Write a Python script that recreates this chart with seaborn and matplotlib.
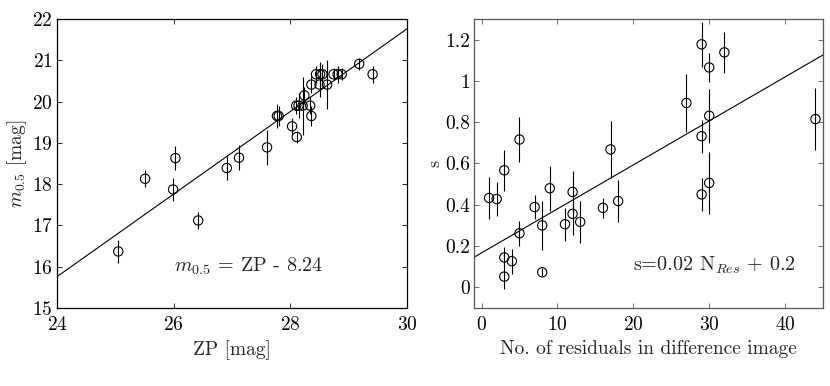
import numpy as np
import pandas as pd
import matplotlib
matplotlib.use("Agg")
import matplotlib.pyplot as plt
import seaborn as sns

# left panel: zero point vs 50% completeness magnitude
zp = [25.05, 25.51, 25.99, 26.03, 26.42, 26.91, 27.12, 27.60, 27.77, 27.80,
      28.03, 28.11, 28.10, 28.14, 28.21, 28.24, 28.34, 28.36, 28.36, 28.44,
      28.51, 28.55, 28.50, 28.63, 28.74, 28.81, 28.88, 29.18, 29.41]
m05 = [16.37, 18.13, 17.87, 18.63, 17.12, 18.39, 18.64, 18.89, 19.65, 19.65,
       19.40, 19.14, 19.90, 19.90, 19.90, 20.15, 19.90, 19.65, 20.41, 20.66,
       20.66, 20.66, 20.41, 20.41, 20.66, 20.66, 20.66, 20.91, 20.66]
m05_err = [0.28, 0.2, 0.28, 0.3, 0.2, 0.3, 0.3, 0.42, 0.3, 0.25,
           0.2, 0.15, 0.2, 0.3, 0.7, 0.2, 0.2, 0.25, 0.2, 0.2,
           0.3, 0.25, 0.3, 0.6, 0.15, 0.2, 0.15, 0.15, 0.2]
zp_offset = -8.24

# right panel: number of residuals vs s
n_res = [1, 2, 3, 3, 3, 4, 5, 5, 7, 8, 8, 9, 11, 12, 12, 13, 16, 17, 18,
         27, 29, 29, 29, 30, 30, 30, 32, 44]
s_val = [0.433, 0.428, 0.567, 0.145, 0.052, 0.127, 0.716, 0.262, 0.389, 0.30,
         0.073, 0.48, 0.306, 0.462, 0.356, 0.317, 0.385, 0.668, 0.418,
         0.893, 1.177, 0.732, 0.45, 1.065, 0.831, 0.506, 1.138, 0.815]
s_err = [0.1, 0.08, 0.1, 0.05, 0.06, 0.06, 0.11, 0.06, 0.06, 0.12,
         0.02, 0.11, 0.08, 0.1, 0.1, 0.1, 0.05, 0.14, 0.1,
         0.14, 0.11, 0.08, 0.08, 0.07, 0.13, 0.15, 0.1, 0.15]
s_slope, s_icpt = 0.0213, 0.167

sns.set_style("ticks")
plt.rcParams["font.family"] = ["serif"]
plt.rcParams["font.serif"] = ["cmr10", "DejaVu Serif"]
plt.rcParams["mathtext.fontset"] = "cm"
plt.rcParams["axes.formatter.use_mathtext"] = True
plt.rcParams["xtick.direction"] = "in"
plt.rcParams["ytick.direction"] = "in"

left_df = pd.DataFrame({"zp": zp, "m": m05, "err": m05_err})
right_df = pd.DataFrame({"n": n_res, "s": s_val, "err": s_err})

fig = plt.figure(figsize=(8.3, 3.86), dpi=100)
ax1 = fig.add_axes([0.0687, 0.202, 0.4217, 0.749])
ax2 = fig.add_axes([0.571, 0.202, 0.4206, 0.749])


def style_axis(ax, spine_col):
    for sp in ax.spines.values():
        sp.set_visible(True)
        sp.set_linewidth(0.9)
        sp.set_color(spine_col)
    ax.tick_params(which="both", top=True, right=True, length=3.5, width=0.6,
                   labelsize=14, color=spine_col, labelcolor="black")
    ax.tick_params(axis="y", pad=3)
    ax.tick_params(axis="x", pad=6)


# left
ax1.errorbar(left_df["zp"], left_df["m"], yerr=left_df["err"], fmt="none",
             ecolor="black", elinewidth=0.8, capsize=0)
sns.scatterplot(data=left_df, x="zp", y="m", ax=ax1, marker="o", s=45,
                facecolor="none", edgecolor="black", linewidth=0.8, zorder=3)
xl = np.array([24, 30])
sns.lineplot(x=xl, y=xl + zp_offset, ax=ax1, color="black", linewidth=0.8)
ax1.set_xlim(24, 30)
ax1.set_ylim(15, 22)
ax1.set_xticks([24, 26, 28, 30])
ax1.set_yticks(range(15, 23))
ax1.set_xlabel("ZP [mag]", fontsize=14, labelpad=4)
ax1.set_ylabel(r"$m_{0.5}$ [mag]", fontsize=14, labelpad=2)
ax1.text(26.0, 16.0, r"$m_{0.5}$ = ZP - 8.24", fontsize=14.5, va="center")
style_axis(ax1, "black")

# right
ax2.errorbar(right_df["n"], right_df["s"], yerr=right_df["err"], fmt="none",
             ecolor="black", elinewidth=0.8, capsize=0)
sns.scatterplot(data=right_df, x="n", y="s", ax=ax2, marker="o", s=45,
                facecolor="none", edgecolor="black", linewidth=0.8, zorder=3)
xr = np.array([-1, 45])
sns.lineplot(x=xr, y=s_slope * xr + s_icpt, ax=ax2, color="black", linewidth=0.8)
ax2.set_xlim(-1, 45)
ax2.set_ylim(-0.1, 1.3)
ax2.set_xticks([0, 10, 20, 30, 40])
ax2.set_yticks([0, 0.2, 0.4, 0.6, 0.8, 1.0, 1.2])
ax2.set_yticklabels(["0", "0.2", "0.4", "0.6", "0.8", "1", "1.2"])
ax2.set_xlabel("No. of residuals in difference image", fontsize=14, labelpad=4)
ax2.set_ylabel("s", fontsize=13, labelpad=2)
ax2.text(20, 0.107, r"s=0.02 N$_{Res}$ + 0.2", fontsize=14.5, va="center")
style_axis(ax2, "#555555")

fig.savefig("out.png", dpi=100)
